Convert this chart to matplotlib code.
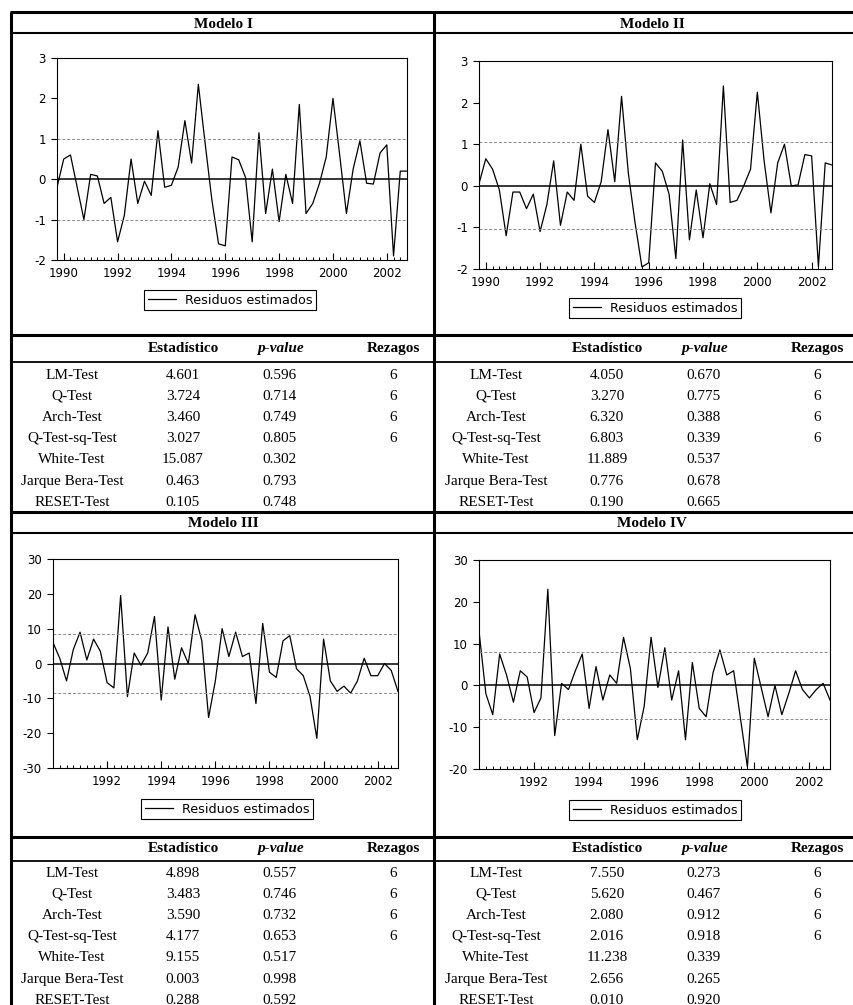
import matplotlib
matplotlib.use('Agg')
import matplotlib.pyplot as plt
import numpy as np
import pandas as pd

plt.rcParams['axes.unicode_minus'] = False

W, H = 854, 1005  # output size in pixels (dpi=100)

# quarterly sample, fractional years
q_a = pd.period_range('1989Q4', '2002Q4', freq='Q')   # Modelo I, II
q_b = pd.period_range('1990Q1', '2002Q4', freq='Q')   # Modelo III, IV
dates_a = q_a.year + (q_a.quarter - 1) / 4
dates_b = q_b.year + (q_b.quarter - 1) / 4

# residuos estimados
resid_1 = [-0.2, 0.5, 0.6, -0.2, -1.0, 0.12, 0.08, -0.6, -0.45, -1.55,
           -0.9, 0.5, -0.6, -0.05, -0.4, 1.2, -0.2, -0.15, 0.3, 1.45,
           0.4, 2.35, 0.9, -0.5, -1.6, -1.65, 0.55, 0.48, 0.05, -1.55,
           1.15, -0.85, 0.25, -1.05, 0.12, -0.6, 1.85, -0.85, -0.6, -0.1,
           0.55, 2.0, 0.6, -0.85, 0.25, 0.95, -0.1, -0.12, 0.65, 0.85,
           -1.9, 0.2, 0.2]
resid_2 = [0.05, 0.65, 0.4, -0.1, -1.2, -0.15, -0.15, -0.55, -0.2, -1.1,
           -0.45, 0.6, -0.95, -0.15, -0.35, 1.0, -0.25, -0.4, 0.1, 1.35,
           0.1, 2.15, 0.3, -0.9, -1.95, -1.85, 0.55, 0.35, -0.2, -1.75,
           1.1, -1.3, -0.1, -1.25, 0.05, -0.45, 2.4, -0.4, -0.35, 0.0,
           0.4, 2.25, 0.6, -0.65, 0.55, 1.0, 0.0, 0.02, 0.75, 0.72,
           -1.95, 0.55, 0.5]
resid_3 = [6, 1.5, -5, 4, 9, 1, 7, 3.5, -5.5, -7,
           19.5, -9.5, 3, -0.5, 3, 13.5, -10.5, 10.5, -4.5, 4.5,
           0, 14, 6.5, -15.5, -5, 10, 2, 9, 2, 3,
           -11.5, 11.5, -2.5, -4, 6.5, 8, -1.5, -3.5, -9.5, -21.5,
           7, -5, -8, -6.5, -8.5, -5, 1.5, -3.5, -3.5, 0,
           -2, -8]
resid_4 = [13, -2, -7, 7.5, 2.5, -4, 3.5, 2, -6.5, -3,
           23, -12, 0.5, -1, 3.5, 7.5, -5.5, 4.5, -3.5, 2.5,
           0.5, 11.5, 4, -13, -5, 11.5, -0.5, 9, -3.5, 3.5,
           -13, 5.5, -5.5, -7.5, 3, 8.5, 2.5, 3.5, -8, -19.5,
           6.5, -0.5, -7.5, 0, -7, -2, 3.5, -1, -3, -1,
           0.5, -3.5]

# +/- bands (dashed lines)
bands = [1.0, 1.05, 8.4, 8.0]

titles = ['Modelo I', 'Modelo II', 'Modelo III', 'Modelo IV']

# test table
tests = ['LM-Test', 'Q-Test', 'Arch-Test', 'Q-Test-sq-Test', 'White-Test',
         'Jarque Bera-Test', 'RESET-Test']
stat_1 = [4.601, 3.724, 3.460, 3.027, 15.087, 0.463, 0.105]
pval_1 = [0.596, 0.714, 0.749, 0.805, 0.302, 0.793, 0.748]
stat_2 = [4.050, 3.270, 6.320, 6.803, 11.889, 0.776, 0.190]
pval_2 = [0.670, 0.775, 0.388, 0.339, 0.537, 0.678, 0.665]
stat_3 = [4.898, 3.483, 3.590, 4.177, 9.155, 0.003, 0.288]
pval_3 = [0.557, 0.746, 0.732, 0.653, 0.517, 0.998, 0.592]
stat_4 = [7.550, 5.620, 2.080, 2.016, 11.238, 2.656, 0.010]
pval_4 = [0.273, 0.467, 0.912, 0.918, 0.339, 0.265, 0.920]
lags = [6, 6, 6, 6, None, None, None]

SERIF = 'Liberation Serif'
SANS = 'DejaVu Sans'

fig = plt.figure(figsize=(W / 100, H / 100), dpi=100)
fig.patch.set_facecolor('white')

# background axes in pixel coordinates for the grid lines and table text
bg = fig.add_axes([0, 0, 1, 1])
bg.set_xlim(0, W)
bg.set_ylim(H, 0)
bg.set_autoscale_on(False)
bg.axis('off')

def hline(y, lw, x0=10, x1=W):
    bg.plot([x0, x1], [y, y], color='black', lw=lw, solid_capstyle='butt')

def vline(x, lw, y0=12, y1=H):
    bg.plot([x, x], [y0, y1], color='black', lw=lw, solid_capstyle='butt')

hline(12, 2.2)
vline(11, 2.2)
vline(434, 2.2)
hline(33, 1.5)
hline(335, 2.2)
hline(362, 1.3)
hline(512, 2.2)
hline(533, 1.5)
hline(837, 2.2)
hline(861, 1.3)

# titles
title_pos = [(223, 24), (652, 24), (223, 523), (652, 523)]
for t, (x, y) in zip(titles, title_pos):
    bg.text(x, y, t, ha='center', va='center', fontsize=11,
            fontweight='bold', family=SERIF)

# tables
def table(x_off, y_head, y_row0, stats, pvals):
    cols = [72, 183, 280, 393]
    cols = [c + x_off for c in cols]
    bg.text(cols[1], y_head, 'Estadístico', ha='center', va='center',
            fontsize=11, fontweight='bold', family=SERIF)
    bg.text(cols[2], y_head, 'p-value', ha='center', va='center',
            fontsize=11, fontweight='bold', style='italic', family=SERIF)
    bg.text(cols[3], y_head, 'Rezagos', ha='center', va='center',
            fontsize=11, fontweight='bold', family=SERIF)
    for k, name in enumerate(tests):
        y = y_row0 + 21.2 * k
        bg.text(cols[0], y, name, ha='center', va='center', fontsize=11, family=SERIF)
        bg.text(cols[1], y, '%.3f' % stats[k], ha='center', va='center',
                fontsize=11, family=SERIF)
        bg.text(cols[2], y, '%.3f' % pvals[k], ha='center', va='center',
                fontsize=11, family=SERIF)
        if lags[k] is not None:
            bg.text(cols[3], y, str(lags[k]), ha='center', va='center',
                    fontsize=11, family=SERIF)

table(0, 348, 375, stat_1, pval_1)
table(424, 348, 375, stat_2, pval_2)
table(0, 848, 873, stat_3, pval_3)
table(424, 848, 873, stat_4, pval_4)

# residual charts
def chart(box, x, y, band, ylim, yticks, xticks, leg_xy):
    l, r, t, b = box
    ax = fig.add_axes([l / W, 1 - b / H, (r - l) / W, (b - t) / H])
    line, = ax.plot(x, y, color='black', lw=0.9, label='Residuos estimados')
    ax.axhline(0, color='black', lw=1.1)
    for v in (band, -band):
        ax.axhline(v, color='#8a8a8a', lw=0.7, ls=(0, (3, 2)))
    ax.set_xlim(x[0], x[-1])
    ax.set_ylim(*ylim)
    ax.set_yticks(yticks)
    ax.set_yticklabels([str(v) for v in yticks])
    ax.set_xticks(xticks)
    ax.set_xticklabels([str(v) for v in xticks])
    ax.set_xticks(list(x), minor=True)
    ax.tick_params(axis='y', direction='out', length=4, width=0.8,
                   labelsize=8.5, pad=4)
    ax.tick_params(axis='x', which='major', direction='in', length=5,
                   width=0.8, labelsize=8.5, pad=5)
    ax.tick_params(axis='x', which='minor', direction='in', length=2.5, width=0.7)
    for lab in ax.get_xticklabels() + ax.get_yticklabels():
        lab.set_family(SANS)
    for s in ax.spines.values():
        s.set_linewidth(0.8)
    leg = ax.legend(handles=[line], loc='center',
                    bbox_to_anchor=(leg_xy[0] / W, 1 - leg_xy[1] / H),
                    bbox_transform=fig.transFigure, fancybox=False,
                    edgecolor='black', framealpha=1, borderpad=0.25,
                    handlelength=2.2, handletextpad=0.7,
                    prop={'family': SANS, 'size': 9.2})
    leg.get_frame().set_linewidth(0.8)
    return ax

chart((57, 407, 58, 260), dates_a, resid_1, bands[0], (-2, 3),
      [-2, -1, 0, 1, 2, 3], [1990, 1992, 1994, 1996, 1998, 2000, 2002], (230, 300))
chart((479, 832, 61, 269), dates_a, resid_2, bands[1], (-2, 3),
      [-2, -1, 0, 1, 2, 3], [1990, 1992, 1994, 1996, 1998, 2000, 2002], (655, 308))
chart((53, 398, 559, 768), dates_b, resid_3, bands[2], (-30, 30),
      [-30, -20, -10, 0, 10, 20, 30], [1992, 1994, 1996, 1998, 2000, 2002], (227, 809))
chart((479, 830, 560, 769), dates_b, resid_4, bands[3], (-20, 30),
      [-20, -10, 0, 10, 20, 30], [1992, 1994, 1996, 1998, 2000, 2002], (655, 810))

plt.savefig('out.png', dpi=100)
